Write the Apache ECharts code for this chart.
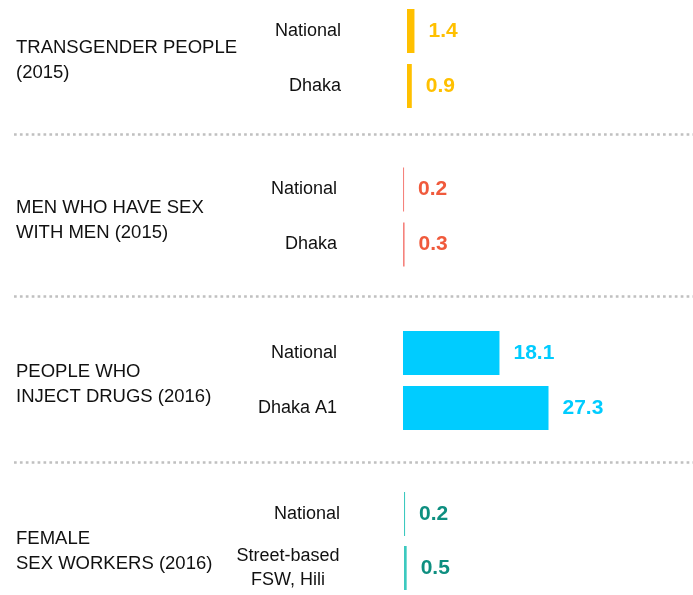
<!DOCTYPE html>
<html>
<head>
<meta charset="utf-8">
<script src="https://cdn.jsdelivr.net/npm/echarts@6/dist/echarts.min.js"></script>
<style>
  html, body { margin: 0; padding: 0; background: #fff; }
  #chart { width: 693px; height: 595px; }
</style>
</head>
<body>
<div id="chart"></div>
<script>
// group titles (left column)
const groupTitles = ['TRANSGENDER PEOPLE\n(2015)', 'MEN WHO HAVE SEX\nWITH MEN (2015)', 'PEOPLE WHO\nINJECT DRUGS (2016)', 'FEMALE\nSEX WORKERS (2016)'];
// bar categories per group
const transCats = ['National', 'Dhaka'];
const msmCats = ['National', 'Dhaka'];
const pwidCats = ['National', 'Dhaka A1'];
const fswCats = ['National', 'Street-based\nFSW, Hili'];
// values per group
const transVals = [1.4, 0.9];
const msmVals = [0.2, 0.3];
const pwidVals = [18.1, 27.3];
const fswVals = [0.2, 0.5];

const cats = [transCats, msmCats, pwidCats, fswCats];
const vals = [transVals, msmVals, pwidVals, fswVals];

// layout / style
const FONT = "'Liberation Sans', Arial, sans-serif";
const barColors = ['#ffc000', '#f5827c', '#00ccff', '#3cc9bf'];
const labelColors = ['#ffc000', '#f05a3c', '#00ccff', '#0e8f80'];
const gridTops = [3.5, 162, 325.5, 487];
const gridLefts = [407, 403, 403, 404];
const labelRight = [341, 337, 337, 340];
const titleTops = [35, 195, 359, 526];
const titleLineH = [25, 25, 25, 25];
const sepYs = [134.5, 296.5, 462.5];
const pxPerUnit = 5.33;
const xMax = 50;

const grids = [], xAxes = [], yAxes = [], series = [], titles = [];
for (let g = 0; g < 4; g++) {
  grids.push({ left: gridLefts[g], top: gridTops[g], width: xMax * pxPerUnit, height: 110 });
  xAxes.push({ gridIndex: g, type: 'value', min: 0, max: xMax, show: false });
  yAxes.push({
    gridIndex: g, type: 'category', data: cats[g], inverse: true,
    axisLine: { show: false }, axisTick: { show: false }, splitLine: { show: false },
    axisLabel: {
      margin: gridLefts[g] - labelRight[g],
      color: '#111', fontFamily: FONT, fontSize: 18, lineHeight: 24,
      formatter: function (v) {
        if (v.indexOf('\n') >= 0) return v.split('\n').map(s => '{c|' + s + '}').join('\n');
        return v;
      },
      rich: { c: { width: 104, align: 'center', fontFamily: FONT, fontSize: 18, lineHeight: 24, color: '#111' } }
    }
  });
  series.push({
    type: 'bar', xAxisIndex: g, yAxisIndex: g, data: vals[g], barWidth: 44,
    itemStyle: { color: barColors[g] },
    label: {
      show: true, position: 'right', distance: 14,
      color: labelColors[g], fontFamily: FONT, fontWeight: 'bold', fontSize: 21
    },
    silent: true
  });
  titles.push({
    text: groupTitles[g], left: 16, top: titleTops[g], padding: 0,
    textStyle: { fontFamily: FONT, fontSize: 18.5, lineHeight: titleLineH[g], fontWeight: 'normal', color: '#111' }
  });
}

const graphics = sepYs.map(y => ({
  type: 'line', shape: { x1: 14, y1: y, x2: 693, y2: y },
  style: { stroke: '#c0c0c0', lineWidth: 2.5, lineDash: [2.7, 3.2] }
}));

const chart = echarts.init(document.getElementById('chart'));
chart.setOption({
  animation: false,
  title: titles,
  grid: grids,
  xAxis: xAxes,
  yAxis: yAxes,
  series: series,
  graphic: graphics
});
</script>
</body>
</html>
